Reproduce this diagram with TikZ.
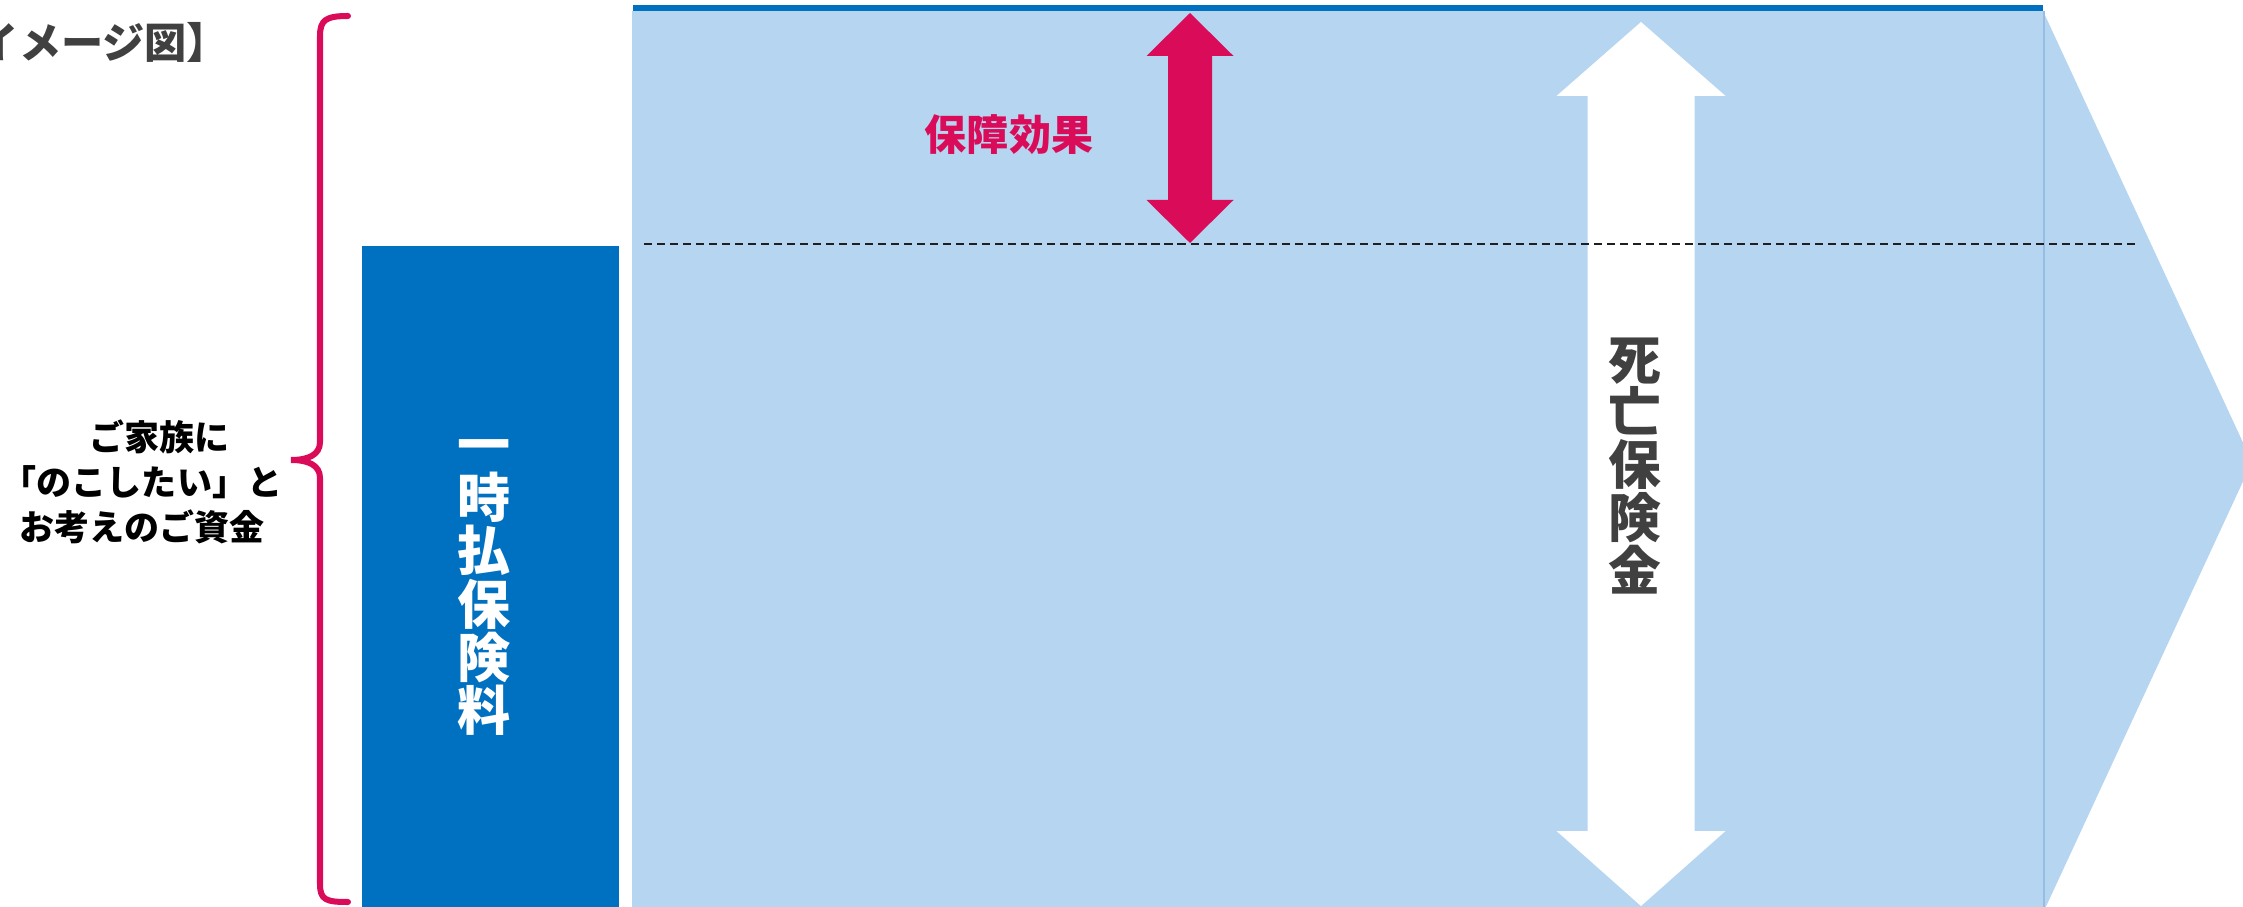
\documentclass[tikz,border=0pt]{standalone}
\usepackage{fontspec}
\setmainfont{Noto Sans CJK JP}
\definecolor{dblue}{RGB}{0,112,192}
\definecolor{lblue}{RGB}{181,213,240}
\definecolor{lblueline}{RGB}{150,190,228}
\definecolor{mag}{RGB}{218,12,90}
\definecolor{tgray}{RGB}{64,64,64}
\tikzset{
  vchar/.style={inner sep=0pt, text height=13.3pt, text depth=1.8pt,
    font=\bfseries\fontsize{15.1pt}{15.1pt}\selectfont, text=white},
  dchar/.style={inner sep=0pt, text height=13.2pt, text depth=1.8pt,
    font=\bfseries\fontsize{15pt}{15pt}\selectfont, text=tgray},
}
\begin{document}
\begin{tikzpicture}[x=0.01cm,y=-0.01cm]
\useasboundingbox (0,0) rectangle (2243,907);
\clip (0,0) rectangle (2243,907);
% light blue pentagon arrow
\fill[lblue] (632,11) -- (2043,11) -- (2252,462) -- (2043,913) -- (632,913) -- cycle;
\coordinate (sepT) at (2044,11);
\coordinate (sepB) at (2044,910);
\draw[lblueline, line width=0.35pt] (sepT) -- (sepB);
\coordinate (topL) at (633,8);
\coordinate (topR) at (2043,8);
\draw[dblue, line width=1.71pt] (topL) -- (topR);
% dark blue box
\fill[dblue] (362,246) rectangle (619,915);
% white double arrow
\fill[white] (1641,22) -- (1725.5,96) -- (1694.5,96) -- (1694.5,831) -- (1725.5,831)
  -- (1641,906) -- (1556.5,831) -- (1587.5,831) -- (1587.5,96) -- (1556.5,96) -- cycle;
% magenta double arrow
\fill[mag] (1190,13) -- (1233.5,56) -- (1212,56) -- (1212,200) -- (1233.5,200)
  -- (1190,243) -- (1146.5,200) -- (1168,200) -- (1168,56) -- (1146.5,56) -- cycle;
% dashed line
\coordinate (dashL) at (644,244);
\coordinate (dashR) at (2138,244);
\draw[black!88, line width=0.57pt, dash pattern=on 2.3pt off 1.4pt] (dashL) -- (dashR);
% brace
\draw[mag, line width=1.71pt, line cap=round]
  (348,16) .. controls (326,16) and (320,20) .. (320,36) -- (320,442)
  .. controls (320,455) and (308,460) .. (291,460)
  .. controls (308,460) and (320,465) .. (320,478) -- (320,884)
  .. controls (320,900) and (326,902) .. (348,902);
% texts
\node[font=\bfseries\fontsize{12pt}{12pt}\selectfont, text=tgray, inner sep=0pt,
  text height=10.56pt, text depth=1.44pt] (title) at (103,42) {イメージ図】};
\node[font=\bfseries\fontsize{9.96pt}{12.8pt}\selectfont, align=center, inner sep=0pt]
  (leftText) at (142,482) {　ご家族に\\「のこしたい」と\\お考えのご資金};
\node[font=\bfseries\fontsize{11.95pt}{11.95pt}\selectfont, text=mag, inner sep=0pt,
  text height=10.5pt, text depth=1.43pt] (hosho) at (1009,135) {保障効果};
\foreach \c [count=\i] in {一,時,払,保,険,料}
  \node[vchar] (ip\i) at (484,{444+(\i-1)*53.3}) {\c};
\foreach \c [count=\i] in {死,亡,保,険,金}
  \node[dchar] (db\i) at (1635,{359+(\i-1)*52.75}) {\c};
\end{tikzpicture}
\end{document}
